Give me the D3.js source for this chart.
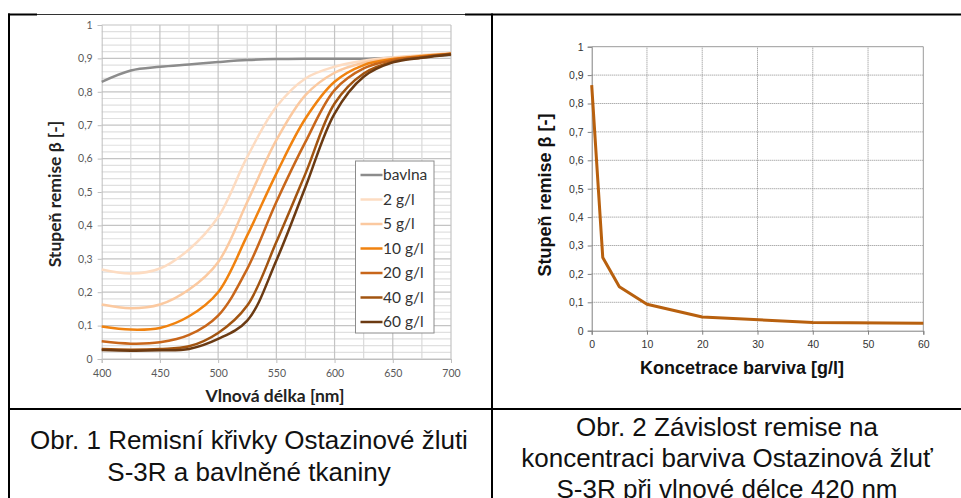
<!DOCTYPE html>
<meta charset="utf-8">
<script src="https://d3js.org/d3.v7.min.js"></script>
<style>
body { margin: 0; background: #fff; }
svg { display: block; }
.leftTick text { font-family: Lato, "Open Sans", sans-serif; font-size: 10.5px; fill: #595959; }
.rightTick text { font-family: "Liberation Sans", Arial, sans-serif; font-size: 10.5px; fill: #333; }
.title1 { font-family: Lato, "Open Sans", sans-serif; font-weight: bold; font-size: 17.5px; fill: #222; }
.title2 { font-family: "Liberation Sans", Arial, sans-serif; font-weight: bold; font-size: 18px; fill: #111; }
.legendText { font-family: Lato, "Open Sans", sans-serif; font-size: 15.5px; fill: #333; }
.caption { font-family: "Liberation Sans", Arial, sans-serif; font-size: 26px; fill: #111; }
.frame { stroke: #000; stroke-width: 2; }
</style>
<body></body>
<script>
// wavelength grid of the spectra [nm]
const wavelengths = [400, 425, 450, 475, 500, 525, 550, 575, 600, 625, 650, 675, 700];

// remission curves
const bavlna = [0.830, 0.864, 0.875, 0.882, 0.889, 0.895, 0.898, 0.899, 0.899, 0.899, 0.902, 0.906, 0.910];
const c2  = [0.268, 0.256, 0.271, 0.328, 0.425, 0.605, 0.755, 0.840, 0.875, 0.893, 0.903, 0.910, 0.916];
const c5  = [0.163, 0.152, 0.163, 0.208, 0.290, 0.470, 0.655, 0.790, 0.857, 0.887, 0.900, 0.908, 0.915];
const c10 = [0.097, 0.088, 0.093, 0.128, 0.200, 0.370, 0.555, 0.720, 0.830, 0.880, 0.898, 0.907, 0.914];
const c20 = [0.053, 0.046, 0.050, 0.072, 0.130, 0.270, 0.470, 0.650, 0.805, 0.870, 0.895, 0.905, 0.914];
const c40 = [0.030, 0.028, 0.030, 0.038, 0.078, 0.160, 0.350, 0.555, 0.765, 0.855, 0.890, 0.903, 0.913];
const c60 = [0.027, 0.025, 0.026, 0.030, 0.060, 0.115, 0.295, 0.515, 0.735, 0.845, 0.888, 0.902, 0.912];

const seriesNames = ["bavlna", "2 g/l", "5 g/l", "10 g/l", "20 g/l", "40 g/l", "60 g/l"];
const seriesValues = [bavlna, c2, c5, c10, c20, c40, c60];
const seriesColors = ["#8c8c8c", "#fddcc2", "#fbc9a0", "#f0820f", "#c8661a", "#a25410", "#6b3a12"];

// remission at 420 nm vs. dye concentration
const concentrations = [0, 2, 5, 10, 20, 40, 60];
const remise420 = [0.865, 0.258, 0.155, 0.093, 0.048, 0.029, 0.026];

const yTicks = [0, 0.1, 0.2, 0.3, 0.4, 0.5, 0.6, 0.7, 0.8, 0.9, 1];
const xTicksLeft = [400, 450, 500, 550, 600, 650, 700];
const xTicksRight = [0, 10, 20, 30, 40, 50, 60];

const captionLeft = ["Obr. 1 Remisní křivky Ostazinové žluti", "S-3R a bavlněné tkaniny"];
const captionRight = ["Obr. 2 Závislost remise na", "koncentraci barviva Ostazinová žluť", "S-3R při vlnové délce 420 nm"];

const W = 961, H = 498;
const svg = d3.select("body").append("svg").attr("width", W).attr("height", H);

const fmt = d => (d === 0 || d === 1) ? String(d) : d.toFixed(1).replace(".", ",");

// ---------------- LEFT CHART ----------------
const x1 = d3.scaleLinear().domain([400, 700]).range([101.7, 451]);
const y1 = d3.scaleLinear().domain([0, 1]).range([359, 25]);

const g1 = svg.append("g");

// grid: every 0.02 horizontally, every 25 nm vertically
g1.append("g").selectAll("line")
  .data(d3.range(0, 51).map(i => i * 0.02))
  .join("line")
  .attr("x1", x1(400)).attr("x2", x1(700))
  .attr("y1", d => y1(d)).attr("y2", d => y1(d))
  .attr("stroke", d => Math.abs(d * 10 - Math.round(d * 10)) < 1e-6 ? "#c4c4c4" : "#e0e0e0")
  .attr("stroke-width", 1.2);

g1.append("g").selectAll("line")
  .data(d3.range(425, 701, 25))
  .join("line")
  .attr("x1", d => x1(d)).attr("x2", d => x1(d))
  .attr("y1", y1(0)).attr("y2", y1(1))
  .attr("stroke", d => d % 50 === 0 ? "#c4c4c4" : "#dadada")
  .attr("stroke-width", 1.2);

const yAxis1 = g1.append("g")
  .attr("class", "leftTick")
  .attr("transform", "translate(" + x1(400) + ",0)")
  .call(d3.axisLeft(y1).tickValues(yTicks).tickFormat(fmt).tickSize(4).tickPadding(5));
yAxis1.selectAll("line, path").attr("stroke", "#bfbfbf");

const xAxis1 = g1.append("g")
  .attr("class", "leftTick")
  .attr("transform", "translate(0," + y1(0) + ")")
  .call(d3.axisBottom(x1).tickValues(xTicksLeft).tickSize(4).tickPadding(7));
xAxis1.selectAll("line, path").attr("stroke", "#bfbfbf");

const line1 = d3.line()
  .x((d, i) => x1(wavelengths[i]))
  .y(d => y1(d))
  .curve(d3.curveCatmullRom.alpha(0.5));

g1.append("g").selectAll("path")
  .data(seriesValues)
  .join("path")
  .attr("d", d => line1(d))
  .attr("fill", "none")
  .attr("stroke", (d, i) => seriesColors[i])
  .attr("stroke-width", 2.5);

// legend
const legend = g1.append("g").attr("transform", "translate(355.5,161)");
legend.append("rect")
  .attr("width", 78.5).attr("height", 172)
  .attr("fill", "#fff").attr("stroke", "#8c8c8c").attr("stroke-width", 1);
const items = legend.selectAll("g.item")
  .data(seriesNames)
  .join("g")
  .attr("class", "item")
  .attr("transform", (d, i) => "translate(0," + (14 + i * 24.5) + ")");
items.append("line")
  .attr("x1", 5).attr("x2", 27)
  .attr("stroke", (d, i) => seriesColors[i])
  .attr("stroke-width", 2.5);
items.append("text")
  .attr("class", "legendText")
  .attr("x", 27.5).attr("dy", "0.35em")
  .text(d => d);

g1.append("text")
  .attr("class", "title1")
  .attr("x", 275).attr("y", 402)
  .attr("text-anchor", "middle")
  .text("Vlnová délka [nm]");

g1.append("text")
  .attr("class", "title1")
  .attr("transform", "translate(61,194) rotate(-90)")
  .attr("text-anchor", "middle")
  .text("Stupeň remise β [-]");

// ---------------- RIGHT CHART ----------------
const x2 = d3.scaleLinear().domain([0, 60]).range([591.7, 923.3]);
const y2 = d3.scaleLinear().domain([0, 1]).range([330.7, 46.7]);
const g2 = svg.append("g");

g2.append("g").selectAll("line")
  .data(yTicks.slice(1, -1))
  .join("line")
  .attr("x1", x2(0)).attr("x2", x2(60))
  .attr("y1", d => y2(d)).attr("y2", d => y2(d))
  .attr("stroke", "#8a8a8a").attr("stroke-width", 1)
  .attr("stroke-dasharray", "1,1");

g2.append("g").selectAll("line")
  .data(xTicksRight.slice(1, -1))
  .join("line")
  .attr("x1", d => x2(d)).attr("x2", d => x2(d))
  .attr("y1", y2(0)).attr("y2", y2(1))
  .attr("stroke", "#8a8a8a").attr("stroke-width", 1)
  .attr("stroke-dasharray", "1,1");

// top and right border of the plot
g2.append("path")
  .attr("d", "M" + x2(0) + "," + y2(1) + "H" + x2(60) + "V" + y2(0))
  .attr("fill", "none").attr("stroke", "#9a9a9a").attr("stroke-width", 1);

const yAxis2 = g2.append("g")
  .attr("class", "rightTick")
  .attr("transform", "translate(" + x2(0) + ",0)")
  .call(d3.axisLeft(y2).tickValues(yTicks).tickFormat(fmt).tickSize(4).tickPadding(4));
yAxis2.selectAll("line, path").attr("stroke", "#808080");

const xAxis2 = g2.append("g")
  .attr("class", "rightTick")
  .attr("transform", "translate(0," + y2(0) + ")")
  .call(d3.axisBottom(x2).tickValues(xTicksRight).tickSize(4).tickPadding(6));
xAxis2.selectAll("line, path").attr("stroke", "#808080");

const line2 = d3.line()
  .x((d, i) => x2(concentrations[i]))
  .y(d => y2(d));

g2.append("path")
  .attr("d", line2(remise420))
  .attr("fill", "none")
  .attr("stroke", "#b8600e")
  .attr("stroke-width", 3)
  .attr("stroke-linejoin", "round");

g2.append("text")
  .attr("class", "title2")
  .attr("x", 742).attr("y", 374)
  .attr("text-anchor", "middle")
  .text("Koncetrace barviva [g/l]");

g2.append("text")
  .attr("class", "title2")
  .attr("transform", "translate(551,195) rotate(-90)")
  .attr("text-anchor", "middle")
  .text("Stupeň remise β [-]");

// ---------------- TABLE FRAME & CAPTIONS ----------------
svg.append("line").attr("class", "frame").attr("x1", 8).attr("x2", 37).attr("y1", 14.5).attr("y2", 14.5);
svg.append("line").attr("stroke", "#333").attr("stroke-width", 1.2).attr("x1", 37).attr("x2", 465).attr("y1", 14.5).attr("y2", 14.5);
svg.append("line").attr("class", "frame").attr("x1", 465).attr("x2", W).attr("y1", 14.5).attr("y2", 14.5);
svg.append("line").attr("class", "frame").attr("x1", 9).attr("x2", 9).attr("y1", 13.5).attr("y2", H);
svg.append("line").attr("class", "frame").attr("x1", 492).attr("x2", 492).attr("y1", 13.5).attr("y2", H);
svg.append("line").attr("class", "frame").attr("x1", 8).attr("x2", W).attr("y1", 409).attr("y2", 409);

svg.append("g").selectAll("text")
  .data(captionLeft)
  .join("text")
  .attr("class", "caption")
  .attr("x", 249).attr("y", (d, i) => 449 + i * 32)
  .attr("text-anchor", "middle")
  .text(d => d);

svg.append("g").selectAll("text")
  .data(captionRight)
  .join("text")
  .attr("class", "caption")
  .attr("x", 727).attr("y", (d, i) => 436 + i * 31)
  .attr("text-anchor", "middle")
  .text(d => d);
</script>
